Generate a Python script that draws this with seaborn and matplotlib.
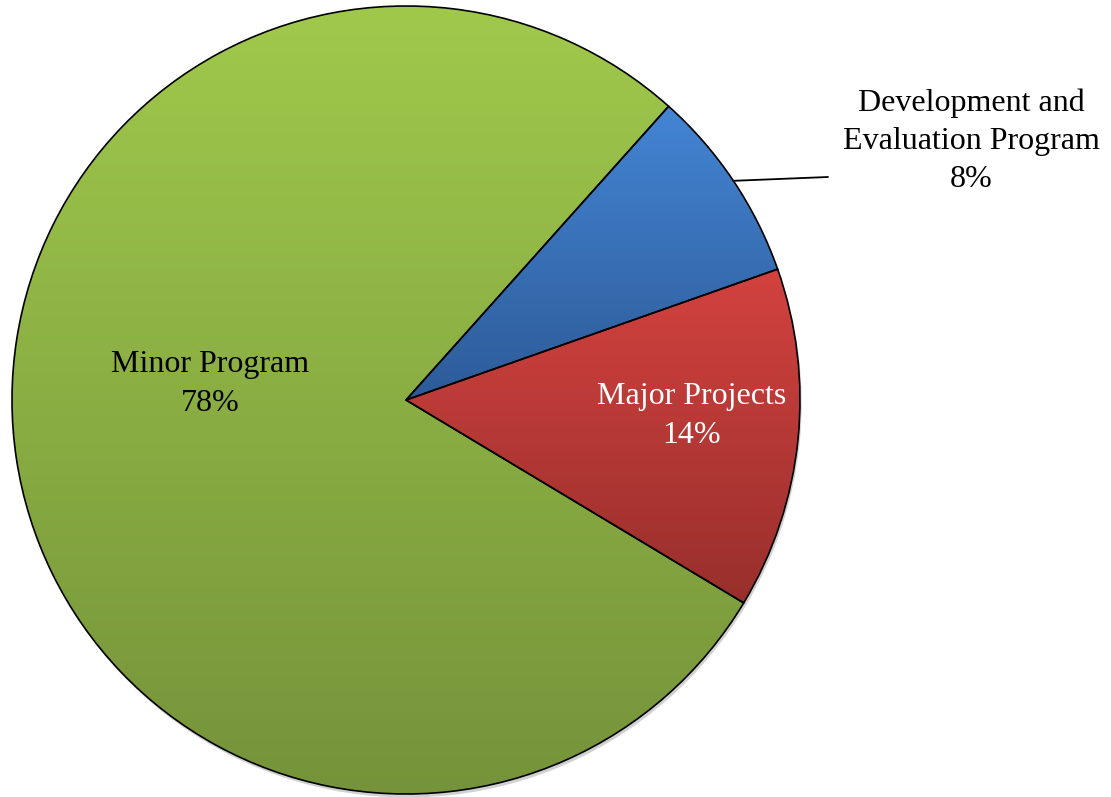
import numpy as np
import matplotlib
matplotlib.use("Agg")
import matplotlib.pyplot as plt
import matplotlib.colors as mcolors
import seaborn as sns

# ---- data ----
categories = ["Development and\nEvaluation Program", "Major Projects", "Minor Program"]
shares = [8, 14, 78]
pct_labels = ["8%", "14%", "78%"]

# gradient colours (top, bottom) per slice
grad_top = ["#4485D4", "#D3423F", "#A0C94C"]
grad_bottom = ["#2D5B98", "#982F2C", "#75933A"]
text_colors = ["black", "white", "black"]

sns.set_theme(style="white")
plt.rcParams["font.family"] = ["Liberation Serif", "DejaVu Serif"]

W, H = 1111, 797
fig = plt.figure(figsize=(W / 100, H / 100), dpi=100)
ax = fig.add_axes([0, 0, 1, 1])

cx, cy, R = 406, H - 400, 394
start = 48.2

wedges, _ = ax.pie(
    shares, center=(cx, cy), radius=R, startangle=start, counterclock=False,
    colors=grad_top, wedgeprops=dict(linewidth=0),
    shadow=dict(ox=1.2, oy=-2.5, facecolor="#9a9a9a", edgecolor="none", alpha=0.45),
    frame=True,
)

# gradient fills clipped to each wedge
for w, ct, cb in zip(wedges, grad_top, grad_bottom):
    verts = w.get_path().vertices
    xs, ys = verts[:, 0], verts[:, 1]
    cmap = mcolors.LinearSegmentedColormap.from_list("g", [cb, ct])
    grad = np.linspace(0, 1, 256).reshape(-1, 1)
    im = ax.imshow(grad, cmap=cmap, extent=(xs.min(), xs.max(), ys.min(), ys.max()),
                   origin="lower", aspect="auto", zorder=1.5, interpolation="bilinear")
    im.set_clip_path(w)

# outlines
ax.pie(shares, center=(cx, cy), radius=R, startangle=start, counterclock=False,
       wedgeprops=dict(fill=False, edgecolor="black", linewidth=1.2, zorder=3),
       frame=True)
ax.set_xlim(0, W)
ax.set_ylim(0, H)
ax.set_aspect("equal")
ax.axis("off")

fs = 23
ls = 1.42
ax.text(210, H - 384, categories[2] + "\n" + pct_labels[2], ha="center", va="center",
        fontsize=fs, color=text_colors[2], linespacing=ls, zorder=4)
ax.text(692, H - 416, categories[1] + "\n" + pct_labels[1], ha="center", va="center",
        fontsize=fs, color=text_colors[1], linespacing=ls, zorder=4)
ax.text(971, H - 141, categories[0] + "\n" + pct_labels[0], ha="center", va="center",
        fontsize=fs, color=text_colors[0], linespacing=ls, zorder=4)

mid = np.deg2rad(start - shares[0] / 100 * 360 / 2)
ax.plot([cx + R * np.cos(mid), 828], [cy + R * np.sin(mid), H - 177],
        color="black", linewidth=1.3, zorder=4)

fig.savefig("out.png", dpi=100)
